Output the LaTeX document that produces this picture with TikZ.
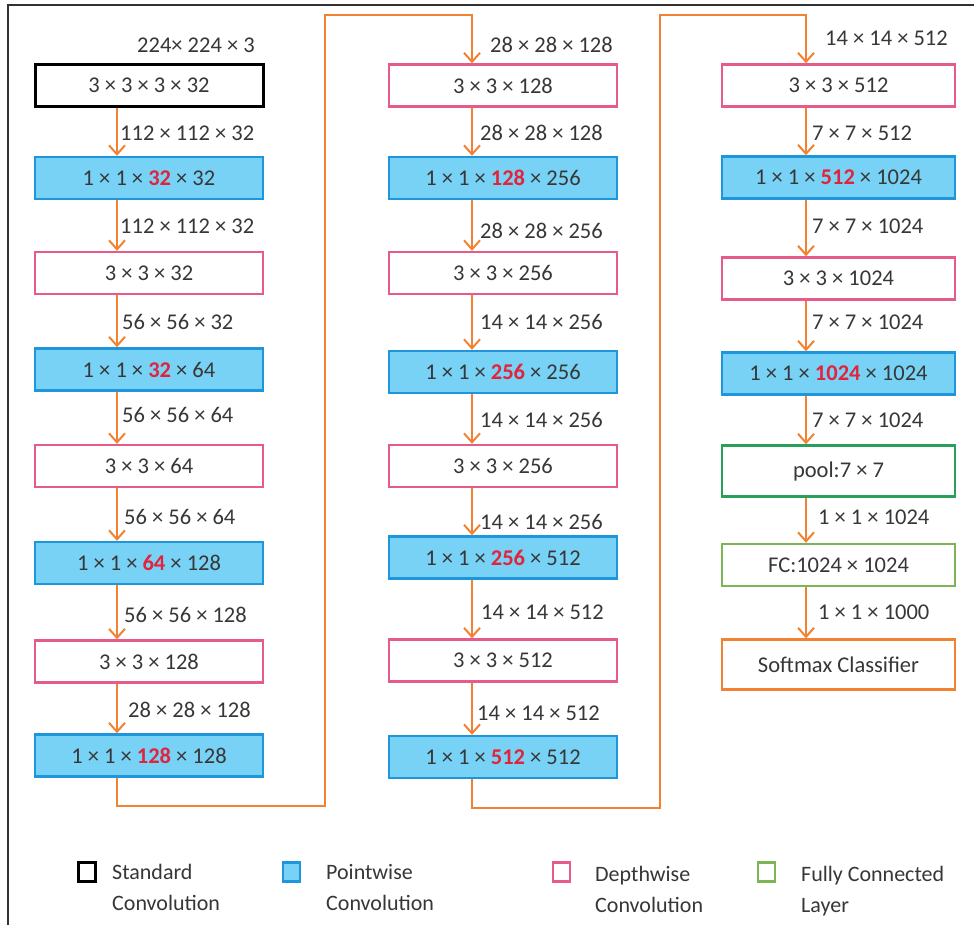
\documentclass[tikz,border=0pt]{standalone}
\usepackage{fontspec}
\setmainfont{Carlito}
\usetikzlibrary{arrows.meta,calc}
\definecolor{pwfill}{RGB}{120,210,245}
\definecolor{pwdraw}{RGB}{30,150,220}
\definecolor{dwdraw}{RGB}{230,90,140}
\definecolor{poolgreen}{RGB}{40,160,90}
\definecolor{fcgreen}{RGB}{125,180,85}
\definecolor{orng}{RGB}{240,130,50}
\definecolor{numred}{RGB}{225,35,60}
\definecolor{txt}{RGB}{55,55,55}
\definecolor{framec}{RGB}{50,50,50}
\newcommand{\rn}[1]{\textcolor{numred}{\textbf{#1}}}
\begin{document}
\begin{tikzpicture}[x=1pt,y=-1pt,
  box/.style={draw,line width=2.4pt,minimum height=42pt,inner sep=0pt,text=txt,font=\fontsize{22.5}{24}\selectfont},
  stdbox/.style={box,draw=black,line width=3pt,fill=white,minimum width=228pt},
  pwbox/.style={box,draw=pwdraw,fill=pwfill,minimum width=228pt},
  dwbox/.style={box,draw=dwdraw,fill=white,minimum width=228pt},
  lbl/.style={anchor=west,text=txt,inner sep=0pt,font=\fontsize{22.5}{24}\selectfont},
  arr/.style={draw=orng,line width=2pt,-{Straight Barb[length=9pt,width=16pt,line width=2pt]}},
  conn/.style={draw=orng,line width=2pt},
  legsq/.style={draw,line width=2.4pt,minimum width=17pt,minimum height=19pt,inner sep=0pt},
  legtxt/.style={anchor=north west,align=left,text=txt,inner sep=0pt,font=\fontsize{22}{31}\selectfont}]
\useasboundingbox (0,0) rectangle (974,925);
\fill[white] (0,0) rectangle (974,925);
\draw[framec,line width=2pt] (8,925) -- (8,5) -- (974,5);

% column anchors for arrows
\coordinate (ax1) at (117,0);
\coordinate (ax2) at (472,0);
\coordinate (ax3) at (806,0);

% column 1
\node[stdbox] (a1) at (149,85.5) {3 × 3 × 3 × 32};
\node[pwbox] (a2) at (149,178) {1 × 1 × \rn{32} × 32};
\node[dwbox] (a3) at (149,273) {3 × 3 × 32};
\node[pwbox] (a4) at (149,369.5) {1 × 1 × \rn{32} × 64};
\node[dwbox] (a5) at (149,466) {3 × 3 × 64};
\node[pwbox] (a6) at (149,563) {1 × 1 × \rn{64} × 128};
\node[dwbox] (a7) at (149,661.5) {3 × 3 × 128};
\node[pwbox] (a8) at (149,755.5) {1 × 1 × \rn{128} × 128};

\node[lbl] (la0) at (137,45) {224× 224 × 3};
\node[lbl] (la1) at (120,133) {112 × 112 × 32};
\node[lbl] (la2) at (120,226) {112 × 112 × 32};
\node[lbl] (la3) at (122,322) {56 × 56 × 32};
\node[lbl] (la4) at (122,415) {56 × 56 × 64};
\node[lbl] (la5) at (124,517) {56 × 56 × 64};
\node[lbl] (la6) at (124,615) {56 × 56 × 128};
\node[lbl] (la7) at (128,710) {28 × 28 × 128};

\foreach \i/\j in {1/2,2/3,3/4,4/5,5/6,6/7,7/8}
  \draw[arr] (a\i.south -| ax1) -- (a\j.north -| ax1);

% column 2
\node[dwbox] (b1) at (503,85.5) {3 × 3 × 128};
\node[pwbox] (b2) at (503,178) {1 × 1 × \rn{128} × 256};
\node[dwbox] (b3) at (503,273) {3 × 3 × 256};
\node[pwbox] (b4) at (503,372) {1 × 1 × \rn{256} × 256};
\node[dwbox] (b5) at (503,466) {3 × 3 × 256};
\node[pwbox] (b6) at (503,557.5) {1 × 1 × \rn{256} × 512};
\node[dwbox] (b7) at (503,660.5) {3 × 3 × 512};
\node[pwbox] (b8) at (503,757) {1 × 1 × \rn{512} × 512};

\node[lbl] (lb0) at (490,45) {28 × 28 × 128};
\node[lbl] (lb1) at (480,133) {28 × 28 × 128};
\node[lbl] (lb2) at (480,231) {28 × 28 × 256};
\node[lbl] (lb3) at (480,322) {14 × 14 × 256};
\node[lbl] (lb4) at (480,420) {14 × 14 × 256};
\node[lbl] (lb5) at (480,522) {14 × 14 × 256};
\node[lbl] (lb6) at (481,612) {14 × 14 × 512};
\node[lbl] (lb7) at (477,713) {14 × 14 × 512};

\foreach \i/\j in {1/2,2/3,3/4,4/5,5/6,6/7,7/8}
  \draw[arr] (b\i.south -| ax2) -- (b\j.north -| ax2);

% column 3
\node[dwbox,minimum width=233pt] (c1) at (838.5,85.5) {3 × 3 × 512};
\node[pwbox,minimum width=233pt] (c2) at (838.5,177.5) {1 × 1 × \rn{512} × 1024};
\node[dwbox,minimum width=233pt] (c3) at (838.5,278.5) {3 × 3 × 1024};
\node[pwbox,minimum width=233pt] (c4) at (838.5,373.5) {1 × 1 × \rn{1024} × 1024};
\node[box,draw=poolgreen,fill=white,minimum width=233pt,minimum height=51pt] (c5) at (838.5,471) {pool:7 × 7};
\node[box,draw=fcgreen,fill=white,minimum width=233pt] (c6) at (838.5,565) {FC:1024 × 1024};
\node[box,draw=orng,fill=white,minimum width=233pt,minimum height=50pt] (c7) at (838.5,664.5) {Softmax Classifier};

\node[lbl] (lc0) at (825,38) {14 × 14 × 512};
\node[lbl] (lc1) at (812,133) {7 × 7 × 512};
\node[lbl] (lc2) at (812,226) {7 × 7 × 1024};
\node[lbl] (lc3) at (812,322) {7 × 7 × 1024};
\node[lbl] (lc4) at (812,420) {7 × 7 × 1024};
\node[lbl] (lc5) at (818,517) {1 × 1 × 1024};
\node[lbl] (lc6) at (818,612) {1 × 1 × 1000};

\foreach \i/\j in {1/2,2/3,3/4,4/5,5/6,6/7}
  \draw[arr] (c\i.south -| ax3) -- (c\j.north -| ax3);

% long connectors between columns
\coordinate (t1) at (325,15);
\coordinate (t2) at (660,15);
\draw[conn] (a8.south -| ax1) |- (325,806) -- (t1) -- (473,15);
\draw[arr] (472,14) -- (b1.north -| ax2);
\draw[conn] (b8.south -| ax2) |- (660,808) -- (t2) -- (807,15);
\draw[arr] (806,14) -- (c1.north -| ax3);

% legend
\node[legsq,draw=black] (k1) at (87,872) {};
\node[legtxt] (k1t) at (112,864) {Standard\\Convolution};
\node[legsq,draw=pwdraw,fill=pwfill] (k2) at (291.5,872) {};
\node[legtxt] (k2t) at (326,864) {Pointwise\\Convolution};
\node[legsq,draw=dwdraw] (k3) at (561.5,872) {};
\node[legtxt] (k3t) at (595,866) {Depthwise\\Convolution};
\node[legsq,draw=fcgreen] (k4) at (766.5,872) {};
\node[legtxt] (k4t) at (801,866) {Fully Connected\\Layer};
\end{tikzpicture}
\end{document}
